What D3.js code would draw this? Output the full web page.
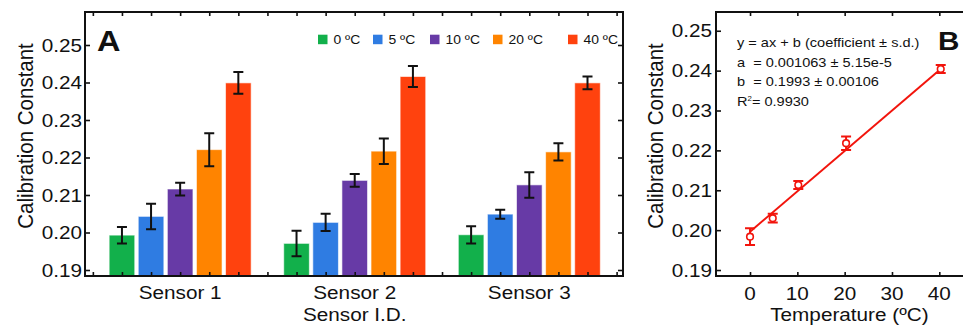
<!DOCTYPE html>
<html>
<head>
<meta charset="utf-8">
<script src="https://cdn.jsdelivr.net/npm/d3@7"></script>
<style>
  body { margin: 0; background: #fff; }
  svg { display: block; }
  text { font-family: "Liberation Sans", Arial, sans-serif; fill: #111; white-space: pre; }
</style>
</head>
<body>
<svg id="fig" width="963" height="327"></svg>
<script>
// ---- data ----
const sensors = ['Sensor 1', 'Sensor 2', 'Sensor 3'];
const temps = ['0 ºC', '5 ºC', '10 ºC', '20 ºC', '40 ºC'];
const colors = ['#12b04b', '#2f7ce2', '#673aa6', '#ff8400', '#ff420e'];
// calibration constant per sensor, one value per temperature
const sensor1 = [0.1993, 0.2043, 0.2116, 0.2221, 0.2399];
const sensor2 = [0.1971, 0.2027, 0.2139, 0.2217, 0.2416];
const sensor3 = [0.1994, 0.2049, 0.2127, 0.2215, 0.2399];
const sensor1Err = [0.0022, 0.0034, 0.0017, 0.0044, 0.0029];
const sensor2Err = [0.0034, 0.0023, 0.0017, 0.0034, 0.0028];
const sensor3Err = [0.0023, 0.0012, 0.0034, 0.0023, 0.0017];
const yTicks = [0.19, 0.20, 0.21, 0.22, 0.23, 0.24, 0.25];

// panel B: mean vs temperature
const tempX = [0, 4.8, 10.2, 20.3, 40.3];
const meanY = [0.19835, 0.2030, 0.2113, 0.2218, 0.2404];
const meanErr = [0.0021, 0.0011, 0.0010, 0.0017, 0.0010];
const fitX = [0, 40.3];
const fitY = [0.1996, 0.2404];
const tempTicks = [0, 10, 20, 30, 40];
const fitText = ['y = ax + b (coefficient ± s.d.)', 'a  = 0.001063 ± 5.15e-5', 'b  = 0.1993 ± 0.00106'];

const SX = 1.12; // the figure is a bit wider than the font
const svg = d3.select('#fig');

function label(g, x, y, s, size, anchor, rot, sx) {
  return g.append('text')
    .attr('transform', `translate(${x},${y}) scale(${sx || SX},1)` + (rot ? ` rotate(${rot})` : ''))
    .attr('text-anchor', anchor || 'start')
    .style('font-size', size + 'px')
    .text(s);
}

function ticks(g, axis, tx, ty) {
  const a = g.append('g').attr('transform', `translate(${tx},${ty})`).call(axis);
  a.select('.domain').remove();
  a.selectAll('.tick line').attr('stroke', '#111').attr('stroke-width', 1.6);
  a.selectAll('.tick text').remove();
}

// ---------- panel A ----------
const A = { l: 85, r: 623, t: 12, b: 276 };
const xA = d3.scaleLinear().domain([-0.27, 18.22]).range([A.l, A.r]);
const yA = d3.scaleLinear().domain([0.1884, 0.2588]).range([A.b, A.t]);
const gA = svg.append('g');

const barData = [];
[sensor1, sensor2, sensor3].forEach((vals, i) => {
  const errs = [sensor1Err, sensor2Err, sensor3Err][i];
  vals.forEach((v, j) => barData.push({ pos: 1 + 6 * i + j, v, e: errs[j], c: colors[j] }));
});
const bw = xA(0.88) - xA(0);

gA.selectAll('rect.bar').data(barData).enter().append('rect')
  .attr('class', 'bar')
  .attr('x', d => xA(d.pos) - bw / 2)
  .attr('width', bw)
  .attr('y', d => yA(d.v))
  .attr('height', d => A.b - yA(d.v))
  .attr('fill', d => d.c)
  .attr('stroke', 'rgba(255,255,255,0.6)')
  .attr('stroke-width', 1);

gA.selectAll('path.err').data(barData).enter().append('path')
  .attr('d', d => {
    const x = xA(d.pos), y1 = yA(d.v + d.e), y0 = yA(d.v - d.e);
    return `M${x - 5},${y1}H${x + 5}M${x},${y1}V${y0}M${x - 5},${y0}H${x + 5}`;
  })
  .attr('fill', 'none').attr('stroke', '#111').attr('stroke-width', 2);

ticks(gA, d3.axisLeft(yA).tickValues(yTicks).tickSize(-5), A.l, 0);
ticks(gA, d3.axisRight(yA).tickValues(yTicks).tickSize(-5), A.r, 0);
ticks(gA, d3.axisTop(xA).tickValues(d3.range(0, 19)).tickSize(-4), 0, A.t);
ticks(gA, d3.axisBottom(xA).tickValues(d3.range(0, 19)).tickSize(-4), 0, A.b);
gA.append('rect').attr('x', A.l).attr('y', A.t).attr('width', A.r - A.l).attr('height', A.b - A.t)
  .attr('fill', 'none').attr('stroke', '#111').attr('stroke-width', 2);

yTicks.forEach(t => label(gA, A.l - 3, yA(t) + 6.5, t.toFixed(2), 18.5, 'end'));
sensors.forEach((s, i) => label(gA, xA(3 + 6 * i), 299, s, 18.5, 'middle'));
label(gA, xA(9), 321, 'Sensor I.D.', 18.5, 'middle');
label(gA, 33, (A.t + A.b) / 2 - 8, 'Calibration Constant', 20.5, 'middle', -90);
label(gA, 97, 51, 'A', 29, 'start').style('font-weight', 'bold');

const legendX = [318, 373, 430, 493, 568];
temps.forEach((t, j) => {
  gA.append('rect').attr('x', legendX[j]).attr('y', 34.7).attr('width', 9.5).attr('height', 9.5).attr('fill', colors[j]);
  label(gA, legendX[j] + 15.5, 44, t, 13.5, 'start', 0, 1.03);
});

// ---------- panel B ----------
const B = { l: 716, r: 980, t: 12, b: 276 };
const xB = d3.scaleLinear().domain([-7.19, 48.6]).range([B.l, B.r]);
const yB = d3.scaleLinear().domain([0.1885, 0.2547]).range([B.b, B.t]);
const gB = svg.append('g');
const red = '#f2140c';

ticks(gB, d3.axisLeft(yB).tickValues(yTicks).tickSize(-5), B.l, 0);
ticks(gB, d3.axisTop(xB).tickValues(tempTicks).tickSize(-4), 0, B.t);
ticks(gB, d3.axisBottom(xB).tickValues(tempTicks).tickSize(-4), 0, B.b);
gB.append('rect').attr('x', B.l).attr('y', B.t).attr('width', B.r - B.l).attr('height', B.b - B.t)
  .attr('fill', 'none').attr('stroke', '#111').attr('stroke-width', 2);

gB.append('path')
  .attr('d', d3.line()(fitX.map((x, i) => [xB(x), yB(fitY[i])])))
  .attr('stroke', red).attr('stroke-width', 2).attr('fill', 'none');

const pts = tempX.map((x, i) => ({ x, y: meanY[i], e: meanErr[i] }));
gB.selectAll('path.perr').data(pts).enter().append('path')
  .attr('d', d => {
    const x = xB(d.x), y1 = yB(d.y + d.e), y0 = yB(d.y - d.e);
    return `M${x - 5},${y1}H${x + 5}M${x},${y1}V${y0}M${x - 5},${y0}H${x + 5}`;
  })
  .attr('fill', 'none').attr('stroke', red).attr('stroke-width', 2);
gB.selectAll('circle').data(pts).enter().append('circle')
  .attr('cx', d => xB(d.x)).attr('cy', d => yB(d.y)).attr('r', 3.3)
  .attr('fill', '#fff').attr('stroke', red).attr('stroke-width', 1.6);

yTicks.forEach(t => label(gB, B.l - 4, yB(t) + 6.5, t.toFixed(2), 18.5, 'end'));
tempTicks.forEach(t => label(gB, xB(t), 300, String(t), 18.5, 'middle'));
label(gB, xB(21), 321, 'Temperature (ºC)', 18.5, 'middle');
label(gB, 663, (B.t + B.b) / 2 - 8, 'Calibration Constant', 20.5, 'middle', -90);
label(gB, 938, 49.5, 'B', 26.5, 'start').style('font-weight', 'bold');

fitText.forEach((s, i) => label(gB, 737, 47 + i * 19.5, s, 13, 'start'));
const r2 = label(gB, 737, 47 + 3 * 19.5, 'R', 13, 'start');
r2.append('tspan').attr('dy', -5).style('font-size', '7px').text('2');
r2.append('tspan').attr('dy', 5).text('= 0.9930');
</script>
</body>
</html>
